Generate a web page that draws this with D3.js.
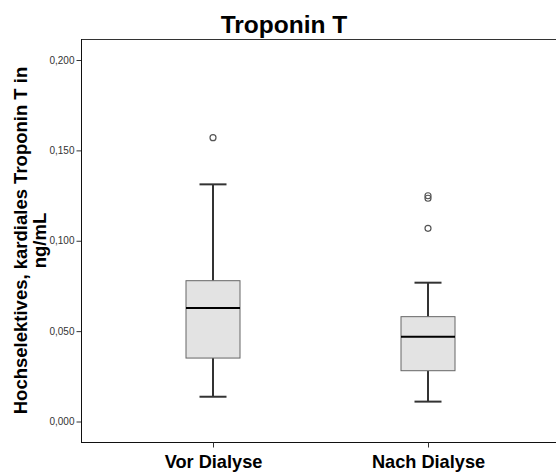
<!DOCTYPE html>
<html><head><meta charset="utf-8">
<script src="https://cdn.jsdelivr.net/npm/d3@7"></script>
<style>body{margin:0;background:#fff}svg{display:block}text{font-family:Arial,"Liberation Sans",sans-serif}</style>
</head><body>
<svg id="c" width="556" height="472"></svg>
<script>
const categories = ["Vor Dialyse", "Nach Dialyse"];
const whiskerLow = [0.0137, 0.0110];
const q1 = [0.0351, 0.0281];
const median = [0.0628, 0.0469];
const q3 = [0.0779, 0.0580];
const whiskerHigh = [0.1312, 0.0768];
const outliers = [[0.157], [0.1249, 0.1235, 0.1069]];
const yTicks = [0, 0.05, 0.10, 0.15, 0.20];
const yTickLabels = ["0,000", "0,050", "0,100", "0,150", "0,200"];
const title = "Troponin T";
const yLabel = ["Hochselektives, kardiales Troponin T in", "ng/mL"];

(function () {
const svg = d3.select("#c");
const pLeft = 81, pTop = 39, pBottom = 442, pRight = 556;
const x = d3.scalePoint().domain(categories).range([105.5, 535.5]).padding(0.5);
const y = d3.scaleLinear().domain([0, 0.2]).range([421.5, 60]);

// frame
svg.append("line").attr("x1", pLeft).attr("x2", pRight).attr("y1", pTop + 0.5).attr("y2", pTop + 0.5).attr("stroke", "#333").attr("stroke-width", 1);
svg.append("line").attr("x1", pLeft).attr("x2", pRight).attr("y1", pBottom + 0.5).attr("y2", pBottom + 0.5).attr("stroke", "#111").attr("stroke-width", 1);

// y axis
const yAxis = d3.axisLeft(y).tickValues(yTicks).tickFormat((d, i) => yTickLabels[i]).tickSize(5).tickPadding(2);
const ga = svg.append("g").attr("transform", `translate(${pLeft + 0.5},0)`).call(yAxis);
ga.select(".domain").remove();
ga.append("line").attr("x1", 0).attr("x2", 0).attr("y1", pTop).attr("y2", pBottom + 1).attr("stroke", "#111");
ga.selectAll(".tick line").attr("stroke", "#333");
ga.selectAll(".tick text").attr("font-size", 10).attr("fill", "#333").attr("font-family", "Arial, 'Liberation Sans', sans-serif");

// x axis
const xAxis = d3.axisBottom(x).tickSize(5).tickPadding(10);
const gx = svg.append("g").attr("transform", `translate(0,${pBottom + 0.5})`).call(xAxis);
gx.select(".domain").remove();
gx.selectAll(".tick line").attr("stroke", "#333");
gx.selectAll(".tick text").attr("font-size", 18.2).attr("font-weight", "bold").attr("fill", "#000")
  .attr("font-family", "Arial, 'Liberation Sans', sans-serif").attr("dy", null).attr("y", 25.5);

// boxes
const boxW = 54, capW = 27;
categories.forEach((c, i) => {
  const cx = x(c);
  const g = svg.append("g");
  g.append("line").attr("x1", cx).attr("x2", cx).attr("y1", y(whiskerHigh[i])).attr("y2", y(q3[i])).attr("stroke", "#333").attr("stroke-width", 2);
  g.append("line").attr("x1", cx).attr("x2", cx).attr("y1", y(q1[i])).attr("y2", y(whiskerLow[i])).attr("stroke", "#333").attr("stroke-width", 2);
  g.append("line").attr("x1", cx - capW / 2).attr("x2", cx + capW / 2).attr("y1", y(whiskerHigh[i])).attr("y2", y(whiskerHigh[i])).attr("stroke", "#333").attr("stroke-width", 2);
  g.append("line").attr("x1", cx - capW / 2).attr("x2", cx + capW / 2).attr("y1", y(whiskerLow[i])).attr("y2", y(whiskerLow[i])).attr("stroke", "#333").attr("stroke-width", 2);
  g.append("rect").attr("x", cx - boxW / 2).attr("y", y(q3[i])).attr("width", boxW).attr("height", y(q1[i]) - y(q3[i]))
    .attr("fill", "#e3e3e3").attr("stroke", "#666").attr("stroke-width", 1);
  g.append("line").attr("x1", cx - boxW / 2).attr("x2", cx + boxW / 2).attr("y1", y(median[i])).attr("y2", y(median[i])).attr("stroke", "#000").attr("stroke-width", 2);
  outliers[i].forEach(v => {
    g.append("circle").attr("cx", cx).attr("cy", y(v)).attr("r", 3).attr("fill", "none").attr("stroke", "#555").attr("stroke-width", 1.2);
  });
});

// title
svg.append("text").attr("x", 284).attr("y", 33).attr("text-anchor", "middle").attr("font-size", 24.5).attr("font-weight", "bold").text(title);

// y label
const yl = svg.append("text").attr("transform", "translate(0,240.5) rotate(-90)").attr("text-anchor", "middle").attr("font-size", 18.5).attr("font-weight", "bold");
yl.append("tspan").attr("x", 0).attr("y", 27).text(yLabel[0]);
yl.append("tspan").attr("x", 0).attr("y", 46).text(yLabel[1]);
})();
</script>
</body></html>
